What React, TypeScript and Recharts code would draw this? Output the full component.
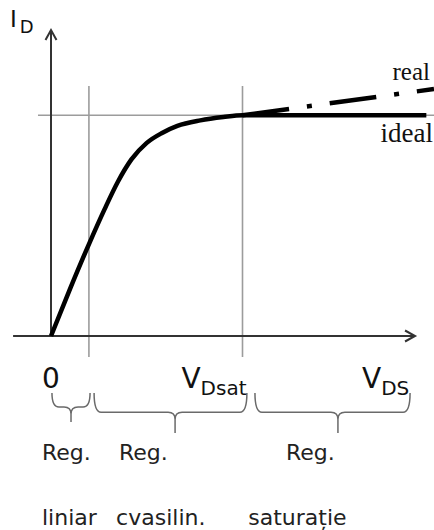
import React from 'react';
import { LineChart, Line, XAxis, YAxis, ReferenceLine, ReferenceArea, ReferenceDot } from 'recharts';

// Characteristic curve I_D(V_DS), V_DS normalised to V_Dsat, I_D normalised to I_Dsat
const curveX = [0, 0.1, 0.2, 0.28, 0.35, 0.42, 0.5, 0.58, 0.66, 0.78, 0.9, 1, 1.96];
const idealY = [0, 0.215, 0.42, 0.575, 0.7, 0.8, 0.875, 0.92, 0.952, 0.977, 0.992, 1, 1];
const realX = [1, 2];
const realY = [1, 1.119];

const xTicks = [0, 1, 1.85];
const xTickMain = ['0', 'V', 'V'];
const xTickSub = ['', 'Dsat', 'DS'];

const braceX1 = [0.005, 0.225, 1.065];
const braceX2 = [0.204, 1.023, 1.875];
const braceTip = [0.5, 0.53, 0.535];
const braceTop = -0.258;
const braceBottom = [-0.39, -0.44, -0.44];

const regTop = ['Reg.', 'Reg.', 'Reg.'];
const regTopX = [-0.047, 0.355, 1.227];
const regBottom = ['liniar', 'cvasilin.', 'saturație'];
const regBottomX = [-0.047, 0.34, 1.03];
const regTopY = -0.562;
const regBottomY = -0.856;

const idealData = curveX.map((x, i) => ({ x, y: idealY[i] }));
const realData = realX.map((x, i) => ({ x, y: realY[i] }));

const AXIS = '#333';
const GRID = '#9c9c9c';

const ArrowLine = (props: any) => {
  const { x1, y1, x2, y2 } = props;
  const dx = x2 - x1;
  const dy = y2 - y1;
  const len = Math.sqrt(dx * dx + dy * dy) || 1;
  const ux = dx / len;
  const uy = dy / len;
  const nx = -uy;
  const ny = ux;
  const L = 10;
  const W = 5.5;
  const bx = x2 - L * ux;
  const by = y2 - L * uy;
  return (
    <g>
      <line x1={x1} y1={y1} x2={x2} y2={y2} stroke={AXIS} strokeWidth={2} />
      <polyline
        points={`${bx + W * nx},${by + W * ny} ${x2},${y2} ${bx - W * nx},${by - W * ny}`}
        fill="none"
        stroke={AXIS}
        strokeWidth={2}
      />
    </g>
  );
};

const makeBrace = (tip: number) => (props: any) => {
  const { x, y, width, height } = props;
  const x0 = x;
  const x1 = x + width;
  const tx = x + width * tip;
  const yh = y + height * 0.48;
  const yt = y + height;
  const r = 7;
  const d =
    `M${x0},${y} Q${x0},${yh} ${x0 + r},${yh} L${tx - r},${yh} Q${tx},${yh} ${tx},${yh + r} L${tx},${yt} ` +
    `M${x1},${y} Q${x1},${yh} ${x1 - r},${yh} L${tx + r},${yh} Q${tx},${yh} ${tx},${yh + r}`;
  return <path d={d} fill="none" stroke="#6a6a6a" strokeWidth={1.5} />;
};

const XTick = (props: any) => {
  const { x, y, payload } = props;
  const i = xTicks.indexOf(payload.value);
  if (i < 0) return null;
  const main = xTickMain[i];
  const sub = xTickSub[i];
  return (
    <text
      x={i === 0 ? x : x + 4}
      y={y + 52}
      textAnchor={i === 0 ? 'middle' : 'end'}
      fontFamily="DejaVu Sans"
      fill="#111"
    >
      <tspan fontSize={28}>{main}</tspan>
      {sub ? (
        <tspan fontSize={20} dy={7}>
          {sub}
        </tspan>
      ) : null}
    </text>
  );
};

const textShape = (content: React.ReactNode, dx: number, dy: number, style: any) => (p: any) => (
  <text x={p.cx + dx} y={p.cy + dy} {...style}>
    {content}
  </text>
);

const regStyle = { fontFamily: 'DejaVu Sans', fontSize: 22, fill: '#222' };

export default function App() {
  return (
    <div style={{ position: 'absolute', left: 0, top: 0 }}>
      <LineChart width={434} height={530} margin={{ top: 27, right: 0, left: 51, bottom: 164 }}>
        <XAxis
          type="number"
          dataKey="x"
          domain={[0, 2]}
          ticks={xTicks}
          interval={0}
          axisLine={false}
          tickLine={false}
          tickSize={0}
          tickMargin={0}
          tick={<XTick />}
          height={30}
        />
        <YAxis hide type="number" dataKey="y" domain={[0, 1.4]} />

        {/* guide lines */}
        <ReferenceLine segment={[{ x: -0.068, y: 1 }, { x: 2, y: 1 }]} stroke={GRID} strokeWidth={1.6} ifOverflow="visible" />
        <ReferenceLine segment={[{ x: 0.198, y: -0.095 }, { x: 0.198, y: 1.133 }]} stroke={GRID} strokeWidth={1.6} ifOverflow="visible" />
        <ReferenceLine segment={[{ x: 1, y: -0.095 }, { x: 1, y: 1.133 }]} stroke={GRID} strokeWidth={1.6} ifOverflow="visible" />

        {/* axes with arrows */}
        <ReferenceLine segment={[{ x: 0, y: 0 }, { x: 0, y: 1.386 }]} ifOverflow="visible" shape={ArrowLine} />
        <ReferenceLine segment={[{ x: -0.198, y: 0 }, { x: 1.901, y: 0 }]} ifOverflow="visible" shape={ArrowLine} />

        <Line
          data={realData}
          dataKey="y"
          type="linear"
          stroke="#000"
          strokeWidth={4.5}
          strokeDasharray="47 18 5 18"
          dot={false}
          isAnimationActive={false}
        />
        <Line
          data={idealData}
          dataKey="y"
          type="monotone"
          stroke="#000"
          strokeWidth={4.5}
          dot={false}
          isAnimationActive={false}
        />

        {/* braces */}
        {braceX1.map((bx, i) => (
          <ReferenceArea
            key={'b' + i}
            x1={bx}
            x2={braceX2[i]}
            y1={braceBottom[i]}
            y2={braceTop}
            ifOverflow="visible"
            shape={makeBrace(braceTip[i])}
          />
        ))}

        {/* axis name I_D */}
        <ReferenceDot
          x={0}
          y={1.386}
          ifOverflow="visible"
          shape={textShape(
            <>
              <tspan fontSize={23}>I</tspan>
              <tspan fontSize={18} dx={3} dy={6}>D</tspan>
            </>,
            -41,
            -3,
            { fontFamily: 'DejaVu Sans', fill: '#111' }
          )}
        />

        {/* curve labels */}
        <ReferenceDot
          x={realX[1]}
          y={realY[1]}
          ifOverflow="visible"
          shape={textShape('real', -4, -9, { fontFamily: 'Liberation Serif', fontSize: 25, fill: '#111', textAnchor: 'end' })}
        />
        <ReferenceDot
          x={2}
          y={1}
          ifOverflow="visible"
          shape={textShape('ideal', -1, 27, { fontFamily: 'Liberation Serif', fontSize: 27, fill: '#111', textAnchor: 'end' })}
        />

        {/* region labels */}
        {regTop.map((t, i) => (
          <ReferenceDot key={'rt' + i} x={regTopX[i]} y={regTopY} ifOverflow="visible" shape={textShape(t, 0, 0, regStyle)} />
        ))}
        {regBottom.map((t, i) => (
          <ReferenceDot key={'rb' + i} x={regBottomX[i]} y={regBottomY} ifOverflow="visible" shape={textShape(t, 0, 0, regStyle)} />
        ))}
      </LineChart>
    </div>
  );
}
